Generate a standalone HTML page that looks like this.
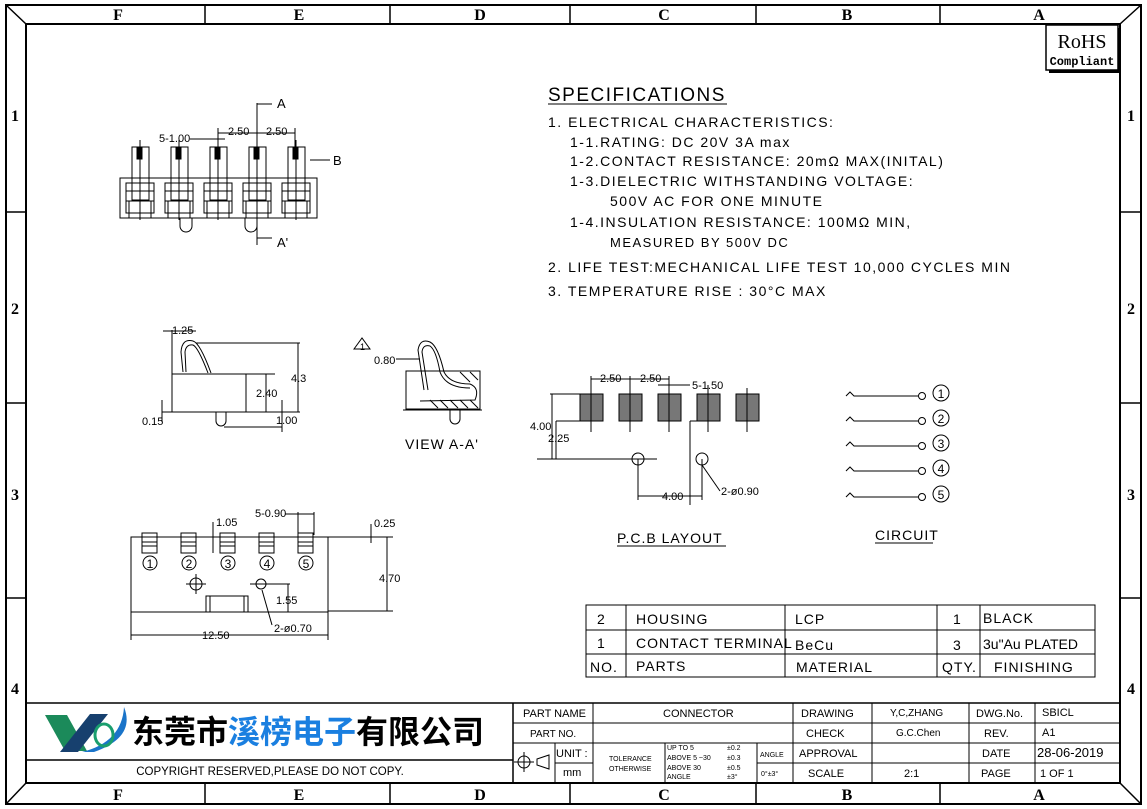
<!DOCTYPE html>
<html><head><meta charset="utf-8"><style>
html,body{margin:0;padding:0;background:#fff}
svg{display:block}
text{font-family:"Liberation Sans","Noto Sans CJK SC",sans-serif;fill:#000}
.s{font-family:"Liberation Serif",serif;font-weight:bold;font-size:16px}
.n{font-size:11px}
.sp{font-size:14px;letter-spacing:1.5px}
.t{font-size:11px}
</style></head><body>
<svg width="1147" height="809" viewBox="0 0 1147 809" xmlns="http://www.w3.org/2000/svg">
<g fill="none" stroke="#000" stroke-width="2">
<rect x="6" y="5" width="1135" height="799"/>
<rect x="26" y="24" width="1094" height="759"/>
</g>
<g stroke="#000" stroke-width="1.5">
<line x1="6" y1="5" x2="26" y2="24"/><line x1="1141" y1="5" x2="1120" y2="24"/>
<line x1="6" y1="804" x2="26" y2="783"/><line x1="1141" y1="804" x2="1120" y2="783"/>
<line x1="205" y1="5" x2="205" y2="24"/><line x1="390" y1="5" x2="390" y2="24"/><line x1="570" y1="5" x2="570" y2="24"/><line x1="756" y1="5" x2="756" y2="24"/><line x1="940" y1="5" x2="940" y2="24"/>
<line x1="205" y1="783" x2="205" y2="804"/><line x1="390" y1="783" x2="390" y2="804"/><line x1="570" y1="783" x2="570" y2="804"/><line x1="756" y1="783" x2="756" y2="804"/><line x1="940" y1="783" x2="940" y2="804"/>
<line x1="6" y1="212" x2="26" y2="212"/><line x1="6" y1="403" x2="26" y2="403"/><line x1="6" y1="598" x2="26" y2="598"/>
<line x1="1120" y1="212" x2="1141" y2="212"/><line x1="1120" y1="403" x2="1141" y2="403"/><line x1="1120" y1="598" x2="1141" y2="598"/>
</g>
<g class="s" text-anchor="middle">
<text class="s" x="118" y="20">F</text><text class="s" x="299" y="20">E</text><text class="s" x="480" y="20">D</text><text class="s" x="664" y="20">C</text><text class="s" x="847" y="20">B</text><text class="s" x="1039" y="20">A</text>
<text class="s" x="118" y="800">F</text><text class="s" x="299" y="800">E</text><text class="s" x="480" y="800">D</text><text class="s" x="664" y="800">C</text><text class="s" x="847" y="800">B</text><text class="s" x="1039" y="800">A</text>
<text class="s" x="15" y="121">1</text><text class="s" x="15" y="314">2</text><text class="s" x="15" y="500">3</text><text class="s" x="15" y="694">4</text>
<text class="s" x="1131" y="121">1</text><text class="s" x="1131" y="314">2</text><text class="s" x="1131" y="500">3</text><text class="s" x="1131" y="694">4</text>
</g>
<!-- RoHS -->
<rect x="1049" y="28" width="72" height="45" fill="#000"/>
<rect x="1046" y="25" width="72" height="45" fill="#fff" stroke="#000" stroke-width="1.5"/>
<text x="1082" y="48" text-anchor="middle" style="font-family:'Liberation Serif',serif;font-size:20px">RoHS</text>
<text x="1082" y="65" text-anchor="middle" style="font-family:'Liberation Mono',monospace;font-size:12px;font-weight:bold">Compliant</text>
<!-- specs -->
<text x="548" y="101" style="font-size:19px;letter-spacing:1.5px">SPECIFICATIONS</text>
<line x1="548" y1="104" x2="727" y2="104" stroke="#000"/>
<g class="sp">
<text class="sp" x="548" y="127">1. ELECTRICAL CHARACTERISTICS:</text>
<text class="sp" x="570" y="147">1-1.RATING: DC 20V 3A max</text>
<text class="sp" x="570" y="166">1-2.CONTACT RESISTANCE: 20mΩ MAX(INITAL)</text>
<text class="sp" x="570" y="186">1-3.DIELECTRIC WITHSTANDING VOLTAGE:</text>
<text class="sp" x="610" y="206">500V AC FOR ONE MINUTE</text>
<text class="sp" x="570" y="227">1-4.INSULATION RESISTANCE: 100MΩ MIN,</text>
<text class="sp" x="610" y="247" style="font-size:13px">MEASURED BY 500V DC</text>
<text class="sp" x="548" y="272">2. LIFE TEST:MECHANICAL LIFE TEST 10,000 CYCLES MIN</text>
<text class="sp" x="548" y="296">3. TEMPERATURE RISE : 30°C MAX</text>
</g>
<!-- top view -->
<g fill="none" stroke="#000" stroke-width="1">
<rect x="120" y="178" width="197" height="40"/>
<g id="pin">
<rect x="132" y="147" width="17" height="53"/>
<rect x="137" y="147" width="5" height="12" fill="#000"/>
<rect x="126" y="191" width="28" height="10"/>
<rect x="129" y="201" width="22" height="17"/>
<rect x="126" y="183" width="28" height="30"/>
<line x1="140" y1="140" x2="140" y2="220"/>
</g>
<use href="#pin" x="39"/><use href="#pin" x="78"/><use href="#pin" x="117"/><use href="#pin" x="156"/>
<path d="M180 218 v8 a6 6 0 0 0 12 0 v-8"/><path d="M245 218 v8 a6 6 0 0 0 12 0 v-8"/>
<line x1="257" y1="103" x2="257" y2="245"/>
<line x1="257" y1="104" x2="272" y2="104"/><line x1="257" y1="238" x2="272" y2="238"/>
<line x1="310" y1="160" x2="330" y2="160"/>
<line x1="190" y1="139" x2="225" y2="139"/><line x1="218" y1="133" x2="257" y2="133"/><line x1="257" y1="133" x2="295" y2="133"/>
<line x1="295" y1="128" x2="295" y2="150"/><line x1="218" y1="128" x2="218" y2="150"/>
</g>
<text class="n" x="277" y="108" style="font-size:13px">A</text><text class="n" x="277" y="247" style="font-size:13px">A'</text><text class="n" x="333" y="165" style="font-size:13px">B</text>
<text class="n" x="159" y="142">5-1.00</text><text class="n" x="228" y="135">2.50</text><text class="n" x="266" y="135">2.50</text>
<!-- side view -->
<g fill="none" stroke="#000" stroke-width="1">
<rect x="172" y="374" width="74" height="38"/><line x1="172" y1="374" x2="172" y2="330"/>
<line x1="246" y1="374" x2="275" y2="374"/>
<path d="M183 372 L181 352 Q182 338 193 341 Q200 343 211 373"/>
<path d="M186 372 L185 352 Q186 344 193 345 Q198 347 208 373"/>
<line x1="196" y1="343" x2="300" y2="343"/>
<line x1="246" y1="412" x2="300" y2="412"/>
<path d="M216 412 v9 a5 5 0 0 0 10 0 v-9"/>
<line x1="224" y1="427" x2="282" y2="427"/>
<line x1="298" y1="343" x2="298" y2="412"/><line x1="266" y1="374" x2="266" y2="412"/><line x1="282" y1="400" x2="282" y2="432"/>
<line x1="163" y1="331" x2="196" y2="331"/><line x1="162" y1="400" x2="162" y2="422"/><line x1="162" y1="412" x2="172" y2="412"/>
</g>
<text class="n" x="172" y="334">1.25</text><text class="n" x="256" y="397">2.40</text><text class="n" x="291" y="382">4.3</text><text class="n" x="276" y="424">1.00</text><text class="n" x="142" y="425">0.15</text>
<!-- view A-A' -->
<g fill="none" stroke="#000" stroke-width="1">
<path d="M354 349 L362 338 L370 349 Z"/>
<line x1="396" y1="359" x2="420" y2="359"/>
<rect x="406" y="371" width="74" height="38"/>
<path d="M424 390 L418 350 Q420 338 430 342 Q438 346 444 372 Q450 384 470 384 Q480 388 475 400 L420 401"/>
<path d="M428 390 L422 352 Q423 344 430 346 Q436 350 440 372 Q446 388 470 388"/>
<line x1="403" y1="410" x2="482" y2="410"/>
<path d="M450 410 v9 a5 5 0 0 0 10 0 v-9"/>
<path d="M430 400 l8 8 M440 400 l8 8 M450 400 l8 8 M460 400 l8 8 M470 400 l8 8 M460 372 l10 10 M470 372 l8 8"/>
</g>
<text class="n" x="360" y="350" style="font-size:9px">1</text><text class="n" x="374" y="364">0.80</text>
<text x="405" y="449" style="font-size:14px;letter-spacing:1px">VIEW A-A'</text>
<!-- bottom view -->
<g fill="none" stroke="#000" stroke-width="1">
<rect x="131" y="537" width="197" height="75"/>
<line x1="328" y1="537" x2="379" y2="537"/>
<line x1="131" y1="612" x2="131" y2="640"/><line x1="328" y1="612" x2="328" y2="640"/><line x1="131" y1="635" x2="328" y2="635"/>
<g id="bp"><rect x="142" y="533" width="15" height="20"/><line x1="142" y1="542" x2="157" y2="542"/><line x1="142" y1="546" x2="157" y2="546"/><circle cx="150" cy="563" r="7"/></g>
<use href="#bp" x="39"/><use href="#bp" x="78"/><use href="#bp" x="117"/><use href="#bp" x="156"/>
<circle cx="196" cy="584" r="6"/><line x1="186" y1="584" x2="206" y2="584"/><line x1="196" y1="574" x2="196" y2="594"/>
<circle cx="261" cy="584" r="5"/><line x1="250" y1="584" x2="290" y2="584"/>
<path d="M206 612 V596 H248 V612 M210 612 V596 M244 612 V596"/>
<line x1="288" y1="584" x2="288" y2="612"/>
<line x1="328" y1="537" x2="393" y2="537"/><line x1="328" y1="611" x2="393" y2="611"/><line x1="387" y1="537" x2="387" y2="611"/>
<line x1="213" y1="522" x2="213" y2="553"/><line x1="298" y1="512" x2="298" y2="535"/><line x1="314" y1="512" x2="314" y2="535"/>
<line x1="285" y1="514" x2="314" y2="514"/><line x1="371" y1="524" x2="371" y2="543"/>
<line x1="262" y1="590" x2="272" y2="625"/>
</g>
<text class="n" x="216" y="526">1.05</text><text class="n" x="255" y="517">5-0.90</text><text class="n" x="374" y="527">0.25</text>
<text class="n" x="379" y="582">4.70</text><text class="n" x="276" y="604">1.55</text><text class="n" x="274" y="632">2-ø0.70</text><text class="n" x="202" y="639">12.50</text>
<!-- PCB layout -->
<g stroke="#000" stroke-width="1" fill="#777">
<rect x="580" y="394" width="23" height="27"/><rect x="619" y="394" width="23" height="27"/><rect x="658" y="394" width="23" height="27"/><rect x="697" y="394" width="23" height="27"/><rect x="736" y="394" width="23" height="27"/>
</g>
<g fill="none" stroke="#000" stroke-width="1">
<line x1="591" y1="376" x2="591" y2="432"/><line x1="630" y1="376" x2="630" y2="432"/><line x1="669" y1="376" x2="669" y2="432"/><line x1="708" y1="385" x2="708" y2="432"/><line x1="747" y1="388" x2="747" y2="432"/>
<line x1="591" y1="379" x2="669" y2="379"/><line x1="658" y1="385" x2="690" y2="385"/>
<line x1="550" y1="394" x2="580" y2="394"/><line x1="556" y1="421" x2="580" y2="421"/>
<line x1="537" y1="459" x2="657" y2="459"/><line x1="552" y1="394" x2="552" y2="459"/><line x1="556" y1="421" x2="556" y2="459"/>
<circle cx="638" cy="459" r="6"/><circle cx="702" cy="459" r="6"/>
<line x1="638" y1="459" x2="638" y2="500"/><line x1="702" y1="459" x2="702" y2="500"/><line x1="690" y1="421" x2="690" y2="505"/><line x1="690" y1="421" x2="708" y2="421"/>
<line x1="638" y1="496" x2="702" y2="496"/><line x1="702" y1="465" x2="720" y2="491"/>
</g>
<text class="n" x="600" y="382">2.50</text><text class="n" x="640" y="382">2.50</text><text class="n" x="692" y="389">5-1.50</text>
<text class="n" x="530" y="430">4.00</text><text class="n" x="548" y="442">2.25</text><text class="n" x="662" y="500">4.00</text><text class="n" x="721" y="495">2-ø0.90</text>
<text x="617" y="543" style="font-size:14px;letter-spacing:1px">P.C.B LAYOUT</text><line x1="617" y1="546" x2="726" y2="546" stroke="#000"/>
<!-- circuit -->
<g fill="none" stroke="#000" stroke-width="1">
<g id="cr"><path d="M846 396 l4 -4 l4 4 H918"/><circle cx="922" cy="396" r="3.5"/><circle cx="941" cy="393" r="8"/></g>
<use href="#cr" y="25"/><use href="#cr" y="50"/><use href="#cr" y="75"/><use href="#cr" y="101"/>
</g>
<g style="font-size:12px" text-anchor="middle"><text x="941" y="398">1</text><text x="941" y="423">2</text><text x="941" y="448">3</text><text x="941" y="473">4</text><text x="941" y="499">5</text></g>
<g style="font-size:12px" text-anchor="middle"><text x="150" y="568">1</text><text x="189" y="568">2</text><text x="228" y="568">3</text><text x="267" y="568">4</text><text x="306" y="568">5</text></g>
<text x="875" y="540" style="font-size:14px;letter-spacing:1px">CIRCUIT</text><line x1="875" y1="543" x2="933" y2="543" stroke="#000"/>
<!-- material table -->
<g fill="none" stroke="#000" stroke-width="1">
<rect x="586" y="605" width="509" height="72"/>
<line x1="586" y1="630" x2="1095" y2="630"/><line x1="586" y1="654" x2="1095" y2="654"/>
<line x1="626" y1="605" x2="626" y2="677"/><line x1="785" y1="605" x2="785" y2="677"/><line x1="937" y1="605" x2="937" y2="677"/><line x1="980" y1="605" x2="980" y2="677"/>
</g>
<g style="font-size:14px;letter-spacing:1px">
<text x="597" y="624">2</text><text x="636" y="624">HOUSING</text><text x="795" y="624">LCP</text><text x="953" y="624">1</text><text x="983" y="623">BLACK</text>
<text x="597" y="648">1</text><text x="636" y="648">CONTACT TERMINAL</text><text x="795" y="650">BeCu</text><text x="953" y="650">3</text><text x="983" y="649" style="letter-spacing:0">3u"Au PLATED</text>
<text x="590" y="672">NO.</text><text x="636" y="671">PARTS</text><text x="796" y="672">MATERIAL</text><text x="942" y="672">QTY.</text><text x="994" y="672">FINISHING</text>
</g>
<!-- title block -->
<g fill="none" stroke="#000" stroke-width="1.5">
<line x1="26" y1="703" x2="1120" y2="703"/>
<line x1="26" y1="760" x2="513" y2="760"/>
<line x1="513" y1="703" x2="513" y2="783"/>
</g>
<g fill="none" stroke="#000" stroke-width="1">
<line x1="513" y1="723" x2="1120" y2="723"/><line x1="513" y1="743" x2="1120" y2="743"/><line x1="757" y1="763" x2="1120" y2="763"/>
<line x1="593" y1="703" x2="593" y2="743"/><line x1="555" y1="743" x2="555" y2="783"/><line x1="555" y1="763" x2="593" y2="763"/><line x1="593" y1="743" x2="593" y2="783"/>
<line x1="665" y1="743" x2="665" y2="783"/><line x1="793" y1="703" x2="793" y2="783"/><line x1="757" y1="743" x2="757" y2="783"/>
<line x1="872" y1="703" x2="872" y2="783"/><line x1="969" y1="703" x2="969" y2="783"/><line x1="1035" y1="703" x2="1035" y2="783"/>
<circle cx="524" cy="762" r="6"/><line x1="514" y1="762" x2="534" y2="762"/><line x1="524" y1="752" x2="524" y2="772"/>
<path d="M537 759 l12 -4 v14 l-12 -4 z"/>
</g>
<!-- logo -->
<path d="M45 715 h22 l20 36 h-22 z" fill="#1b8a5a"/>
<path d="M60 752 l30 -38 h18 l-30 38 z" fill="#17406e"/>
<path d="M82 752 q40 -10 42 -45 q12 30 -30 45 z" fill="#1a74c9"/>
<ellipse cx="104" cy="735" rx="9" ry="11" fill="none" stroke="#1a9e6e" stroke-width="3"/>
<text x="132" y="743" style="font-size:32px;font-weight:bold;font-family:'Noto Sans CJK SC',sans-serif">东莞市<tspan fill="#1a7fe0">溪榜电子</tspan>有限公司</text>
<text x="270" y="775" text-anchor="middle" style="font-size:11.5px">COPYRIGHT RESERVED,PLEASE DO NOT COPY.</text>
<g class="t">
<text x="523" y="717">PART NAME</text><text x="530" y="737" style="font-size:10px">PART NO.</text>
<text x="663" y="717">CONNECTOR</text>
<text x="556" y="757">UNIT :</text><text x="563" y="776">mm</text>
<text x="609" y="761" style="font-size:7px">TOLERANCE</text><text x="609" y="771" style="font-size:7px">OTHERWISE</text>
<g style="font-size:7px"><text x="667" y="750">UP TO 5</text><text x="667" y="760">ABOVE 5 ~30</text><text x="667" y="770">ABOVE 30</text><text x="667" y="779">ANGLE</text>
<text x="727" y="750">±0.2</text><text x="727" y="760">±0.3</text><text x="727" y="770">±0.5</text><text x="727" y="779">±3°</text>
<text x="760" y="757">ANGLE</text><text x="761" y="776">0°±3°</text></g>
<text x="801" y="717">DRAWING</text><text x="806" y="737">CHECK</text><text x="799" y="757">APPROVAL</text><text x="808" y="777">SCALE</text>
<text x="890" y="716" style="font-size:10px">Y,C,ZHANG</text><text x="896" y="736" style="font-size:10px">G.C.Chen</text><text x="904" y="777">2:1</text>
<text x="976" y="717">DWG.No.</text><text x="984" y="737">REV.</text><text x="982" y="757">DATE</text><text x="981" y="777">PAGE</text>
<text x="1042" y="716">SBICL</text><text x="1042" y="736">A1</text><text x="1037" y="757" style="font-size:13px">28-06-2019</text><text x="1040" y="777">1 OF 1</text>
</g>
</svg>
</body></html>
